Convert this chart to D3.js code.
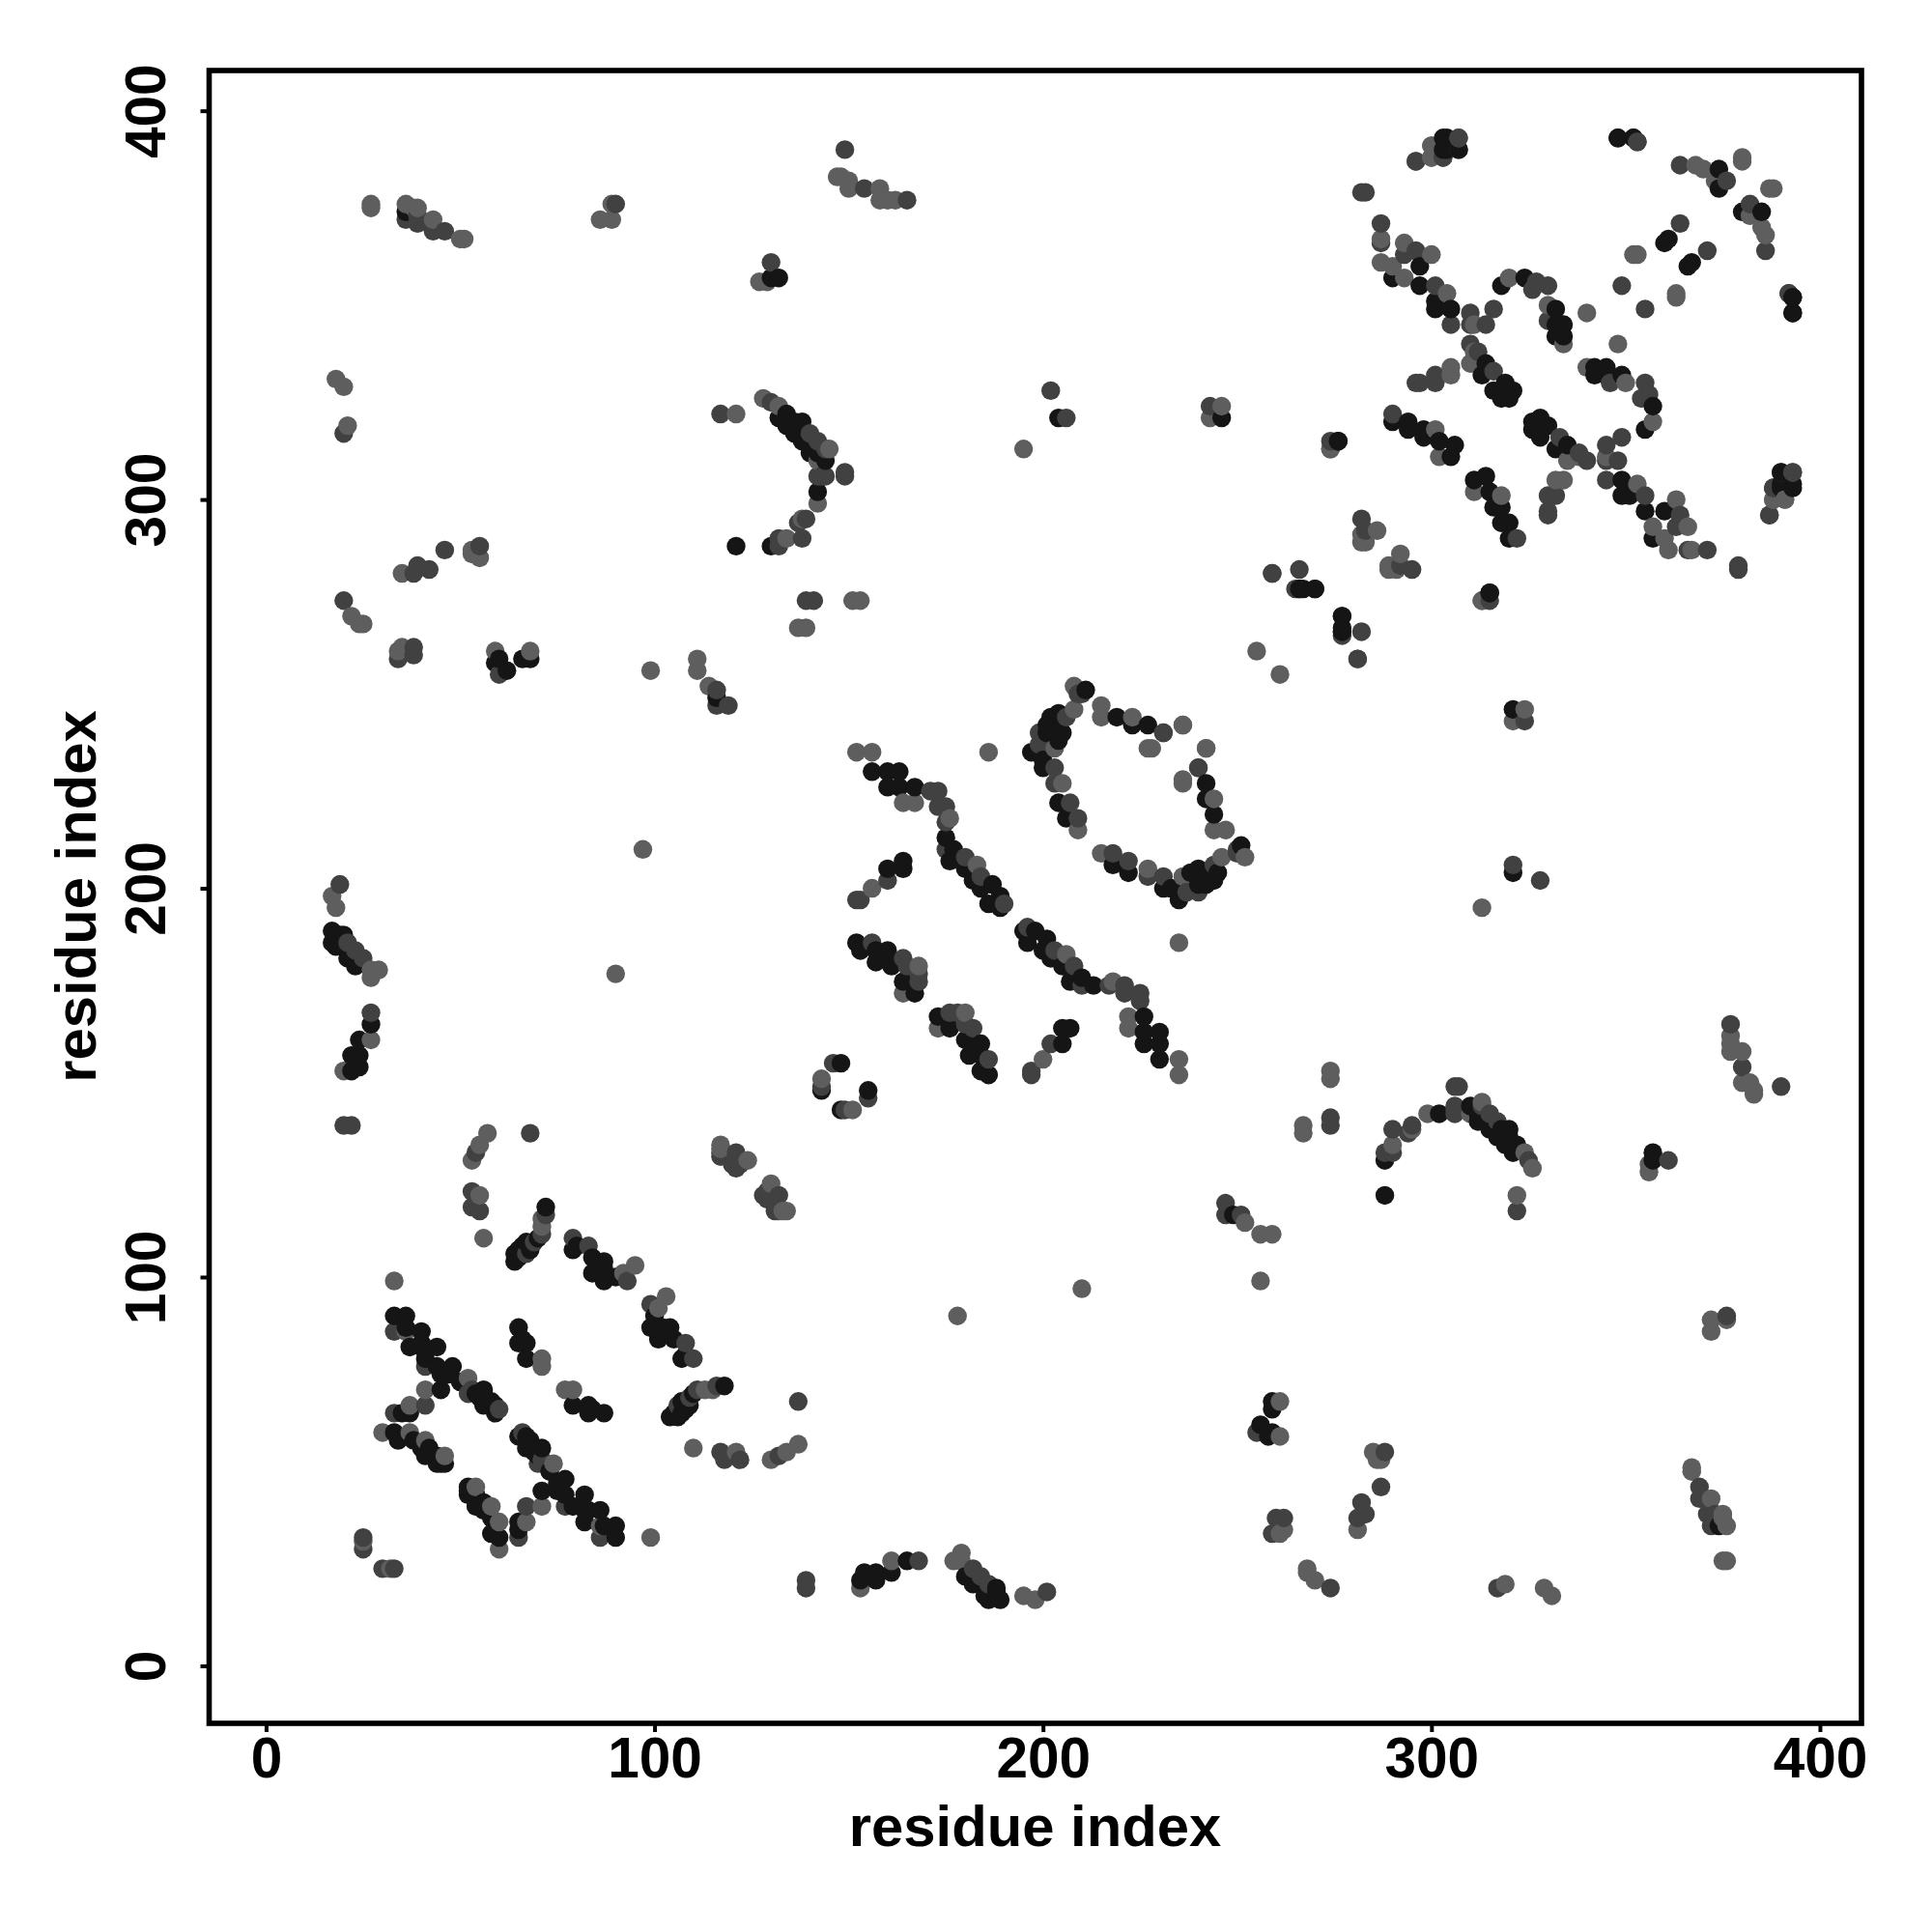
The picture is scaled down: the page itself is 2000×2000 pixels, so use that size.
<!DOCTYPE html>
<html><head><meta charset="utf-8">
<script src="https://cdnjs.cloudflare.com/ajax/libs/d3/7.8.5/d3.min.js"></script>
<style>html,body{margin:0;padding:0;background:#fff}svg{display:block}text{font-family:"Liberation Sans",sans-serif;font-weight:bold;fill:#000}</style>
</head><body><svg id="c" width="2000" height="2000"></svg>
<script>
const tickValues=[0,100,200,300,400];
const axisTitle="residue index";
// contacts (residue i < residue j); the map is symmetric
const lightContacts=[[27,376],[27,375],[36,376],[38,375],[39,375],[43,372],[50,367],[51,367],[89,376],[89,372],[86,372],[127,356],[129,356],[147,383],[148,383],[150,382],[150,380],[158,380],[158,377],[160,377],[162,377],[121,322],[128,326],[132,324],[142,310],[145,313],[142,299],[138,295],[134,290],[151,274],[153,274],[137,267],[139,267],[195,313],[246,324],[243,321],[274,313],[259,281],[255,261],[18,331],[20,329],[21,319],[22,270],[24,268],[25,268],[35,281],[53,286],[53,287],[55,285],[35,262],[34,261],[59,261],[68,261],[99,256],[111,259],[111,256],[114,252],[97,210],[90,178],[17,198],[18,195],[27,179],[29,179],[27,177],[27,161],[20,153],[296,387],[300,391],[300,388],[380,388],[380,387],[368,386],[370,385],[373,382],[353,363],[352,363],[340,348],[287,367],[293,366],[287,361],[290,360],[300,363],[293,357],[304,353],[311,345],[320,357],[330,350],[334,340],[310,335],[305,334],[305,332],[311,338],[301,318],[302,311],[391,300],[393,307],[388,300],[282,289],[282,291],[286,292],[283,289],[313,274],[152,235],[156,235],[186,235],[208,252],[215,247],[215,244],[223,244],[236,242],[228,236],[242,236],[240,231],[227,236],[208,246],[203,236],[205,227],[209,215],[156,200],[168,180],[164,222],[167,222],[176,218],[183,206],[164,173],[33,99],[57,137],[55,134],[53,130],[55,121],[56,110],[36,86],[52,74],[41,71],[37,67],[30,60],[37,60],[41,58],[46,54],[117,133],[124,130],[117,134],[71,115],[71,113],[71,79],[71,77],[92,101],[95,103],[25,32],[143,151]];
const midContacts=[[36,372],[39,373],[39,371],[43,369],[46,369],[90,376],[130,361],[149,390],[154,380],[165,377],[117,322],[130,325],[142,315],[144,313],[140,317],[142,306],[144,306],[149,307],[149,306],[138,290],[137,294],[139,295],[132,290],[132,288],[139,274],[141,274],[202,328],[206,321],[243,324],[274,315],[266,282],[265,277],[277,266],[281,259],[20,317],[20,274],[38,281],[39,283],[42,282],[46,287],[55,288],[34,259],[38,262],[38,260],[60,255],[116,251],[116,247],[119,247],[19,201],[21,186],[23,184],[25,182],[27,168],[303,388],[307,393],[353,392],[282,379],[283,379],[364,386],[376,382],[364,371],[349,355],[392,353],[287,371],[287,366],[296,364],[293,363],[301,355],[310,348],[305,345],[314,345],[316,349],[310,345],[327,356],[326,354],[330,355],[330,346],[310,340],[312,338],[316,333],[301,332],[297,330],[296,330],[301,330],[290,322],[390,307],[388,303],[387,296],[282,295],[283,292],[171,225],[173,225],[173,221],[175,221],[175,217],[175,210],[180,208],[184,203],[190,196],[210,250],[209,250],[231,240],[206,244],[199,240],[199,237],[203,231],[203,227],[207,222],[209,218],[153,197],[152,197],[160,202],[156,186],[164,182],[165,180],[168,178],[168,176],[146,155],[143,149],[33,86],[41,77],[53,71],[52,70],[60,66],[41,67],[33,65],[53,122],[53,118],[55,117],[68,137],[54,132],[117,131],[121,132],[121,128],[129,122],[129,120],[132,117],[83,108],[79,110],[93,99],[67,106],[72,116],[71,111],[69,109],[25,30],[25,33],[20,139],[22,139],[143,306]];
const darkContacts=[[36,374],[33,90],[36,90],[36,87],[40,86],[37,82],[40,83],[40,82],[44,82],[41,79],[44,77],[45,71],[48,77],[45,75],[47,75],[50,73],[54,70],[56,71],[55,69],[56,67],[58,68],[59,67],[59,65],[37,65],[35,65],[33,60],[34,58],[38,58],[36,59],[40,56],[42,56],[41,54],[44,54],[45,52],[44,52],[46,52],[72,118],[67,109],[68,107],[65,107],[66,108],[64,106],[64,104],[65,105],[70,110],[65,87],[66,84],[67,83],[65,83],[67,79],[79,107],[80,108],[84,101],[84,105],[87,104],[87,99],[87,102],[90,100],[130,357],[132,357],[132,321],[134,322],[134,319],[136,320],[136,317],[138,320],[138,318],[138,315],[140,314],[140,312],[142,312],[144,310],[142,302],[130,288],[121,288],[204,321],[246,321],[276,315],[266,277],[270,277],[277,270],[277,267],[60,259],[59,258],[62,256],[66,259],[68,259],[116,249],[17,189],[18,188],[19,188],[20,188],[17,186],[18,185],[21,182],[23,180],[27,165],[24,161],[24,157],[22,157],[24,154],[22,153],[304,393],[307,390],[304,390],[348,393],[352,393],[374,385],[374,380],[361,367],[360,366],[393,352],[393,348],[297,360],[290,357],[297,355],[301,351],[301,349],[305,349],[318,355],[324,357],[332,349],[332,345],[334,345],[332,342],[334,342],[314,335],[313,332],[319,330],[316,328],[321,328],[320,326],[318,326],[290,320],[294,320],[294,318],[298,318],[298,316],[302,315],[306,314],[305,311],[393,303],[390,303],[156,230],[160,230],[163,230],[160,226],[163,226],[167,226],[175,213],[177,210],[176,207],[180,205],[182,202],[187,201],[184,200],[189,198],[186,196],[189,195],[211,251],[219,244],[223,242],[227,242],[204,245],[202,244],[203,242],[201,240],[197,235],[200,231],[200,233],[204,222],[206,218],[205,240],[203,240],[204,238],[199,235],[201,242],[202,243],[160,205],[164,207],[164,205],[152,186],[153,184],[157,184],[160,184],[157,181],[160,182],[161,180],[164,176],[167,173],[148,155],[143,148],[315,276]];
const toneColors={light:"#5e5e5e",mid:"#414141",dark:"#151515"};

const svg=d3.select("#c");
const x=d3.scaleLinear().domain([-14.65,410.7]).range([216.5,1927]);
const y=d3.scaleLinear().domain([-14.8,410.35]).range([1784,73]);

const rows=[];
[[lightContacts,"light"],[midContacts,"mid"],[darkContacts,"dark"]].forEach(([list,tone])=>{
  list.forEach(([i,j])=>{rows.push({x:i,y:j,tone});rows.push({x:j,y:i,tone});});
});
rows.sort((a,b)=>d3.ascending(a.x,b.x)||d3.ascending(a.y,b.y));

svg.append("g").selectAll("circle").data(rows).join("circle")
  .attr("cx",d=>x(d.x)).attr("cy",d=>y(d.y)).attr("r",9.7)
  .attr("fill",d=>toneColors[d.tone]);

svg.append("rect").attr("x",x.range()[0]).attr("y",y.range()[1])
  .attr("width",x.range()[1]-x.range()[0]).attr("height",y.range()[0]-y.range()[1])
  .attr("fill","none").attr("stroke","#000").attr("stroke-width",5.6);

const gx=svg.append("g").attr("transform",`translate(0,${y.range()[0]})`)
  .call(d3.axisBottom(x).tickValues(tickValues).tickSize(9).tickPadding(0));
gx.select(".domain").remove();
gx.selectAll("line").attr("stroke","#000").attr("stroke-width",4);
gx.selectAll("text").attr("y",56).attr("dy",0).attr("font-size",58.5).style("text-anchor","middle");

const gy=svg.append("g").attr("transform",`translate(${x.range()[0]},0)`)
  .call(d3.axisLeft(y).tickValues(tickValues).tickSize(9).tickPadding(0));
gy.select(".domain").remove();
gy.selectAll("line").attr("stroke","#000").attr("stroke-width",4);
gy.selectAll("text").attr("x",0).attr("y",0).attr("dy",0).attr("font-size",58.5)
  .attr("transform","translate(-46,0) rotate(-90)").style("text-anchor","middle");

svg.append("text").attr("x",1071.5).attr("y",1911).attr("font-size",59.8).attr("text-anchor","middle").text(axisTitle);
svg.append("text").attr("transform","translate(99,928) rotate(-90)").attr("font-size",59.8).attr("text-anchor","middle").text(axisTitle);
</script></body></html>
